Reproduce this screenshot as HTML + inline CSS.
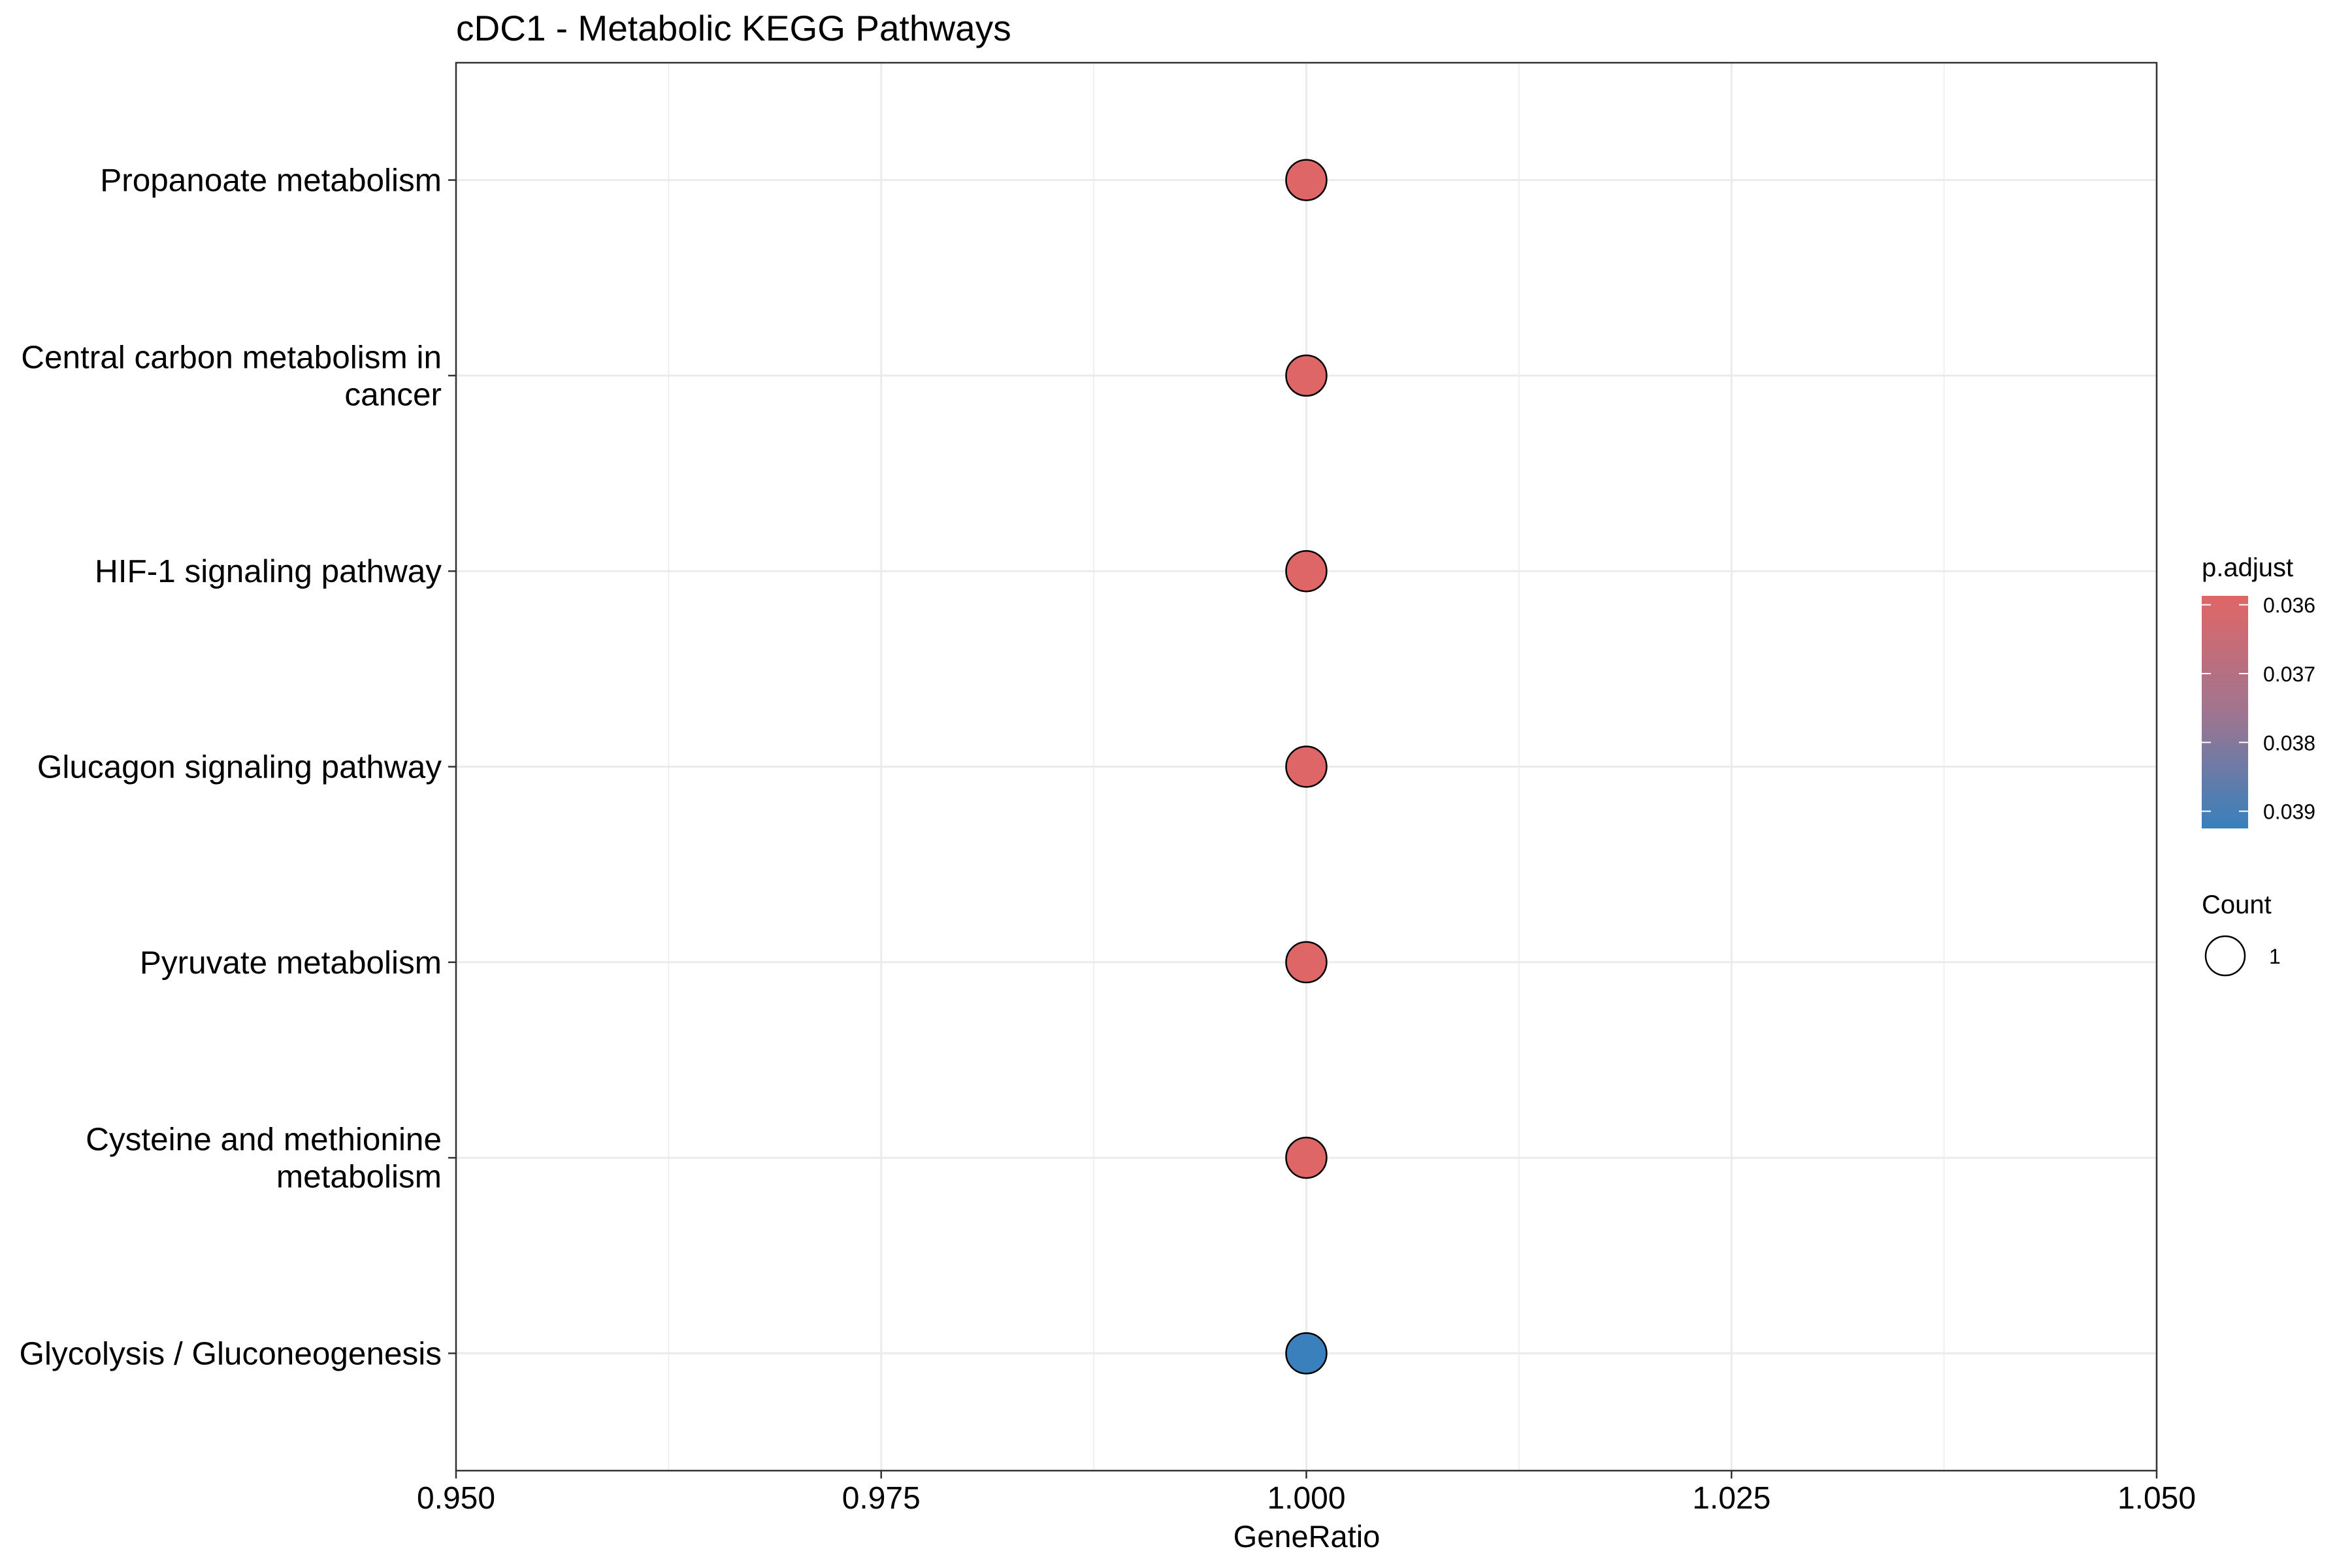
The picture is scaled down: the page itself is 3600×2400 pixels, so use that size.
<!DOCTYPE html>
<html><head><meta charset="utf-8"><style>
html,body{margin:0;padding:0;background:#fff;}
svg{display:block;font-family:"Liberation Sans",Arial,sans-serif;}
</style></head><body>
<svg id="chart" width="3600" height="2400" viewBox="0 0 3600 2400" xmlns="http://www.w3.org/2000/svg">
<defs>
<linearGradient id="grad" x1="0" y1="0" x2="0" y2="1">
<stop offset="0" stop-color="#E06666"/>
<stop offset="0.5" stop-color="#A07590"/>
<stop offset="1" stop-color="#3780BD"/>
</linearGradient>
</defs>
<rect x="0" y="0" width="3600" height="2400" fill="#fff"/>
<text x="698" y="62" font-size="55" fill="#000">cDC1 - Metabolic KEGG Pathways</text>
<g id="grid"></g>
<g id="points"></g>
<rect x="698" y="96" width="2603" height="2155" fill="none" stroke="#333" stroke-width="2.5"/>
<g id="xaxis"></g>
<g id="yaxis"></g>
<text x="2000" y="2368" font-size="47" text-anchor="middle" fill="#000">GeneRatio</text>
<g>
<text x="3370" y="882" font-size="40" fill="#000">p.adjust</text>
<rect x="3370" y="912" width="71" height="356" fill="url(#grad)"/>
<g id="cticks"></g>
</g>
<g>
<text x="3370" y="1398" font-size="40" fill="#000">Count</text>
<circle cx="3406" cy="1463" r="30" fill="#fff" stroke="#000" stroke-width="2.5"/>
<text x="3473" y="1475" font-size="32" fill="#000">1</text>
</g>
</svg>
<script>
const categories = [
  ["Propanoate metabolism"],
  ["Central carbon metabolism in","cancer"],
  ["HIF-1 signaling pathway"],
  ["Glucagon signaling pathway"],
  ["Pyruvate metabolism"],
  ["Cysteine and methionine","metabolism"],
  ["Glycolysis / Gluconeogenesis"]
];
const geneRatio = [1, 1, 1, 1, 1, 1, 1];
const padjust = [0.0359, 0.0359, 0.0359, 0.0359, 0.0359, 0.0359, 0.0392];
const xTicks = [0.950, 0.975, 1.000, 1.025, 1.050];
const xTickLabels = ["0.950","0.975","1.000","1.025","1.050"];
const cTicks = [0.036, 0.037, 0.038, 0.039];
const cTickLabels = ["0.036","0.037","0.038","0.039"];

const NS = "http://www.w3.org/2000/svg";
const PL = 698, PR = 3301, PT = 96, PB = 2251;
const xMin = 0.95, xMax = 1.05;
function xs(v){ return PL + (v - xMin) / (xMax - xMin) * (PR - PL); }
const n = categories.length;
const step = (PB - PT) / (n - 1 + 1.2);
function ys(i){ return PT + step * (0.6 + i); }
const cMin = 0.03587, cMax = 0.03925;
function cs(v){ return 912 + (v - cMin) / (cMax - cMin) * 356; }
function lerp(a,b,t){ return Math.round(a + (b - a) * t); }
function colorOf(v){
  let t = Math.max(0, Math.min(1, (v - cMin) / (cMax - cMin)));
  return "rgb(" + lerp(224,55,t) + "," + lerp(102,128,t) + "," + lerp(102,189,t) + ")";
}
function mk(tag, attrs, parent){
  const e = document.createElementNS(NS, tag);
  for (const k in attrs) e.setAttribute(k, attrs[k]);
  parent.appendChild(e);
  return e;
}
const grid = document.getElementById("grid");
const xaxis = document.getElementById("xaxis");
const yaxis = document.getElementById("yaxis");
const points = document.getElementById("points");
const cticks = document.getElementById("cticks");

for (let i = 0; i < xTicks.length - 1; i++) {
  const m = (xTicks[i] + xTicks[i+1]) / 2;
  const l = mk("line", {x1: xs(m), x2: xs(m), y1: PT, y2: PB, stroke: "#EBEBEB", "stroke-width": 1.5}, grid);
  
  
}
xTicks.forEach((v, i) => {
  const g = mk("line", {x1: xs(v), x2: xs(v), y1: PT, y2: PB, stroke: "#EBEBEB", "stroke-width": 3}, grid);
  
  
  const t = mk("line", {x1: xs(v), x2: xs(v), y1: PB, y2: PB + 12, stroke: "#333", "stroke-width": 2.5}, xaxis);
  
  
  const tx = mk("text", {x: xs(v), y: PB + 58, "font-size": 48, "text-anchor": "middle", fill: "#000"}, xaxis);
  tx.textContent = xTickLabels[i];
  
  
});
categories.forEach((lines, i) => {
  const y = ys(i);
  const g = mk("line", {x1: PL, x2: PR, y1: y, y2: y, stroke: "#EBEBEB", "stroke-width": 3}, grid);
  
  
  const t = mk("line", {x1: PL - 12, x2: PL, y1: y, y2: y, stroke: "#333", "stroke-width": 2.5}, yaxis);
  
  
  const lh = 57;
  const y0 = y - (lines.length - 1) * lh / 2 + 17;
  lines.forEach((ln, k) => {
    const tx = mk("text", {x: PL - 22, y: y0 + k * lh, "font-size": 49.5, "text-anchor": "end", fill: "#000"}, yaxis);
    tx.textContent = ln;
    
    
  });
  const c = mk("circle", {cx: xs(geneRatio[i]), cy: y, r: 31, fill: colorOf(padjust[i]), stroke: "#000", "stroke-width": 2.5}, points);
  
  
});
cTicks.forEach((v, i) => {
  const y = cs(v);
  const a = mk("line", {x1: 3370, x2: 3384, y1: y, y2: y, stroke: "#fff", "stroke-width": 2}, cticks);
  
  
  const b = mk("line", {x1: 3427, x2: 3441, y1: y, y2: y, stroke: "#fff", "stroke-width": 2}, cticks);
  
  
  const tx = mk("text", {x: 3464, y: y + 12, "font-size": 32, fill: "#000"}, cticks);
  tx.textContent = cTickLabels[i];
  
  
});
</script>
</body></html>
